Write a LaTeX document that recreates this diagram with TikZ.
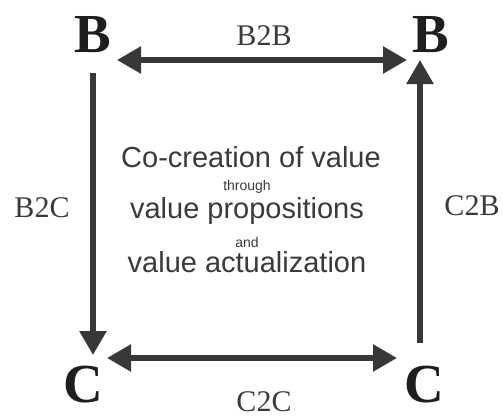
\documentclass[tikz,border=0pt]{standalone}
\usepackage{fontspec}
\setmainfont{Liberation Serif}
\newfontfamily\arialfont{Liberation Sans}
\usetikzlibrary{arrows.meta}
\definecolor{inkdark}{HTML}{1E1E1E}
\definecolor{inkarrow}{HTML}{383838}
\definecolor{inktext}{HTML}{3A3A3A}
\tikzset{
  bigletter/.style={inner sep=0pt, anchor=base, text=inkdark, font=\fontsize{55}{55}\selectfont\bfseries},
  flowlabel/.style={inner sep=0pt, anchor=base, text=inktext, font=\fontsize{30}{30}\selectfont},
  bigline/.style={inner sep=0pt, anchor=base, text=inktext, font=\arialfont\fontsize{29}{29}\selectfont},
  smallline/.style={inner sep=0pt, anchor=base, text=inktext, font=\arialfont\fontsize{14}{14}\selectfont},
  flowarrow/.style={draw=inkarrow, line width=5.5pt, -{Triangle[length=24pt,width=26pt]}},
  twoarrow/.style={draw=inkarrow, line width=5.5pt, {Triangle[length=24pt,width=26pt]}-{Triangle[length=24pt,width=26pt]}}
}
\begin{document}
\begin{tikzpicture}[x=1pt,y=-1pt]
\useasboundingbox (0,0) rectangle (503,416);
% corner letters
\node[bigletter] (btl) at (92.5,52) {B};
\node[bigletter] (btr) at (431,52) {B};
\node[bigletter] (cbl) at (83,402) {C};
\node[bigletter] (cbr) at (424,402) {C};
% connector end points
\coordinate (b2bL) at (117,60);
\coordinate (b2bR) at (407,60);
\coordinate (c2cL) at (107,358);
\coordinate (c2cR) at (397,358);
\coordinate (b2cT) at (93,73);
\coordinate (b2cB) at (93,355);
\coordinate (c2bB) at (420,343);
\coordinate (c2bT) at (420,60);
% connectors
\draw[twoarrow] (b2bL) -- (b2bR);
\draw[twoarrow] (c2cL) -- (c2cR);
\draw[flowarrow] (b2cT) -- (b2cB);
\draw[flowarrow] (c2bB) -- (c2bT);
% labels
\node[flowlabel] (lb2b) at (264,45) {B2B};
\node[flowlabel] (lc2c) at (264,411) {C2C};
\node[flowlabel] (lb2c) at (42,217) {B2C};
\node[flowlabel] (lc2b) at (472,215) {C2B};
% centre text
\node[bigline] (t1) at (251,167) {Co-creation of value};
\node[smallline] (t2) at (247,190) {through};
\node[bigline] (t3) at (247,218) {value propositions};
\node[smallline] (t4) at (247,247) {and};
\node[bigline] (t5) at (247,272) {value actualization};
\end{tikzpicture}
\end{document}
